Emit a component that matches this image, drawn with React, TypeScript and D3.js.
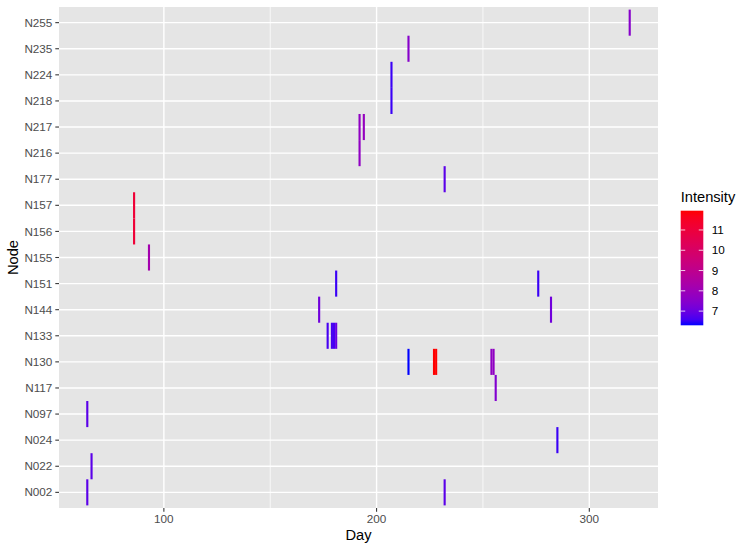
import { useEffect, useRef } from 'react'
import * as d3 from 'd3'

// node categories, bottom to top
const nodes = ['N002', 'N022', 'N024', 'N097', 'N117', 'N130', 'N133', 'N144', 'N151', 'N155', 'N156', 'N157', 'N177', 'N216', 'N217', 'N218', 'N224', 'N235', 'N255']

// one entry per tile
const tileNodes = ['N002', 'N002', 'N022', 'N097', 'N024', 'N117', 'N130', 'N130', 'N130', 'N130', 'N130', 'N133', 'N133', 'N133', 'N133', 'N144', 'N144', 'N151', 'N151', 'N155', 'N156', 'N157', 'N177', 'N216', 'N217', 'N217', 'N218', 'N224', 'N235', 'N255']
const tileDays = [64, 232, 66, 64, 285, 256, 215, 227, 228, 254, 255, 177, 179, 180, 181, 173, 282, 181, 276, 93, 86, 86, 232, 192, 192, 194, 207, 207, 215, 319]
const tileValues = [6.8, 6.8, 6.8, 6.8, 6.5, 7.4, 6.3, 11.95, 11.95, 7.7, 7.7, 6.6, 6.6, 6.6, 7.0, 7.1, 7.1, 6.5, 6.5, 8.2, 11.1, 11.1, 6.8, 7.7, 7.7, 7.8, 6.5, 6.5, 7.5, 7.5]

const xTicks = [100, 200, 300]
const xMinor = [150, 250]
const legendTicks = [7, 8, 9, 10, 11]

export default function App() {
  const svgRef = useRef<SVGSVGElement>(null)

  useEffect(() => {
    const width = 750
    const height = 550
    const panel = { left: 59, right: 658, top: 7, bottom: 508 }

    const svg = d3.select(svgRef.current)
    svg.selectAll('*').remove()
    svg.attr('width', width).attr('height', height).attr('viewBox', `0 0 ${width} ${height}`)
    svg.append('rect').attr('width', width).attr('height', height).attr('fill', '#fff')

    const tiles = tileDays.map((d, i) => ({ day: d, node: tileNodes[i], value: tileValues[i] }))

    const dMin = d3.min(tileDays)! - 0.5
    const dMax = d3.max(tileDays)! + 0.5
    const pad = (dMax - dMin) * 0.05
    const x = d3.scaleLinear().domain([dMin - pad, dMax + pad]).range([panel.left, panel.right])

    const y = d3
      .scaleBand()
      .domain(nodes)
      .range([panel.bottom, panel.top])
      .paddingInner(0)
      .paddingOuter(0.1)

    const extent = d3.extent(tileValues) as [number, number]
    const color = d3.scaleLinear<string>().domain(extent).range(['blue', 'red']).interpolate(d3.interpolateLab)

    const font = 'Liberation Sans, Arial, Helvetica, sans-serif'

    // panel
    svg
      .append('rect')
      .attr('x', panel.left)
      .attr('y', panel.top)
      .attr('width', panel.right - panel.left)
      .attr('height', panel.bottom - panel.top)
      .attr('fill', '#e5e5e5')

    svg
      .append('g')
      .selectAll('line')
      .data(xMinor)
      .join('line')
      .attr('x1', (d) => x(d))
      .attr('x2', (d) => x(d))
      .attr('y1', panel.top)
      .attr('y2', panel.bottom)
      .attr('stroke', '#fafafa')
      .attr('stroke-width', 0.9)

    svg
      .append('g')
      .selectAll('line')
      .data(xTicks)
      .join('line')
      .attr('x1', (d) => x(d))
      .attr('x2', (d) => x(d))
      .attr('y1', panel.top)
      .attr('y2', panel.bottom)
      .attr('stroke', '#fff')
      .attr('stroke-width', 1.4)

    const bw = y.bandwidth()
    svg
      .append('g')
      .selectAll('line')
      .data(nodes)
      .join('line')
      .attr('x1', panel.left)
      .attr('x2', panel.right)
      .attr('y1', (d) => y(d)! + bw / 2)
      .attr('y2', (d) => y(d)! + bw / 2)
      .attr('stroke', '#fff')
      .attr('stroke-width', 1.4)

    // tiles
    svg
      .append('g')
      .selectAll('rect')
      .data(tiles)
      .join('rect')
      .attr('x', (d) => x(d.day - 0.5))
      .attr('width', (d) => x(d.day + 0.5) - x(d.day - 0.5))
      .attr('y', (d) => y(d.node)!)
      .attr('height', bw)
      .attr('fill', (d) => color(d.value))

    // axes
    const xAxis = svg.append('g')
    xAxis
      .selectAll('line')
      .data(xTicks)
      .join('line')
      .attr('x1', (d) => x(d))
      .attr('x2', (d) => x(d))
      .attr('y1', panel.bottom)
      .attr('y2', panel.bottom + 3.7)
      .attr('stroke', '#333')
      .attr('stroke-width', 1.07)
    xAxis
      .selectAll('text')
      .data(xTicks)
      .join('text')
      .attr('x', (d) => x(d))
      .attr('y', 523)
      .attr('text-anchor', 'middle')
      .style('font-family', font)
      .style('font-size', '11.73px')
      .style('fill', '#4d4d4d')
      .text((d) => d)

    const yAxis = svg.append('g')
    yAxis
      .selectAll('line')
      .data(nodes)
      .join('line')
      .attr('x1', panel.left - 3.7)
      .attr('x2', panel.left)
      .attr('y1', (d) => y(d)! + bw / 2)
      .attr('y2', (d) => y(d)! + bw / 2)
      .attr('stroke', '#333')
      .attr('stroke-width', 1.07)
    yAxis
      .selectAll('text')
      .data(nodes)
      .join('text')
      .attr('x', panel.left - 6.6)
      .attr('y', (d) => y(d)! + bw / 2)
      .attr('dy', '0.35em')
      .attr('text-anchor', 'end')
      .style('font-family', font)
      .style('font-size', '11.73px')
      .style('fill', '#4d4d4d')
      .text((d) => d)

    svg
      .append('text')
      .attr('x', (panel.left + panel.right) / 2)
      .attr('y', 540)
      .attr('text-anchor', 'middle')
      .style('font-family', font)
      .style('font-size', '14.67px')
      .style('fill', '#000')
      .text('Day')

    svg
      .append('text')
      .attr('transform', `translate(18.3,${(panel.top + panel.bottom) / 2}) rotate(-90)`)
      .attr('text-anchor', 'middle')
      .style('font-family', font)
      .style('font-size', '14.67px')
      .style('fill', '#000')
      .text('Node')

    // legend
    const bar = { x: 680.7, y0: 210.7, y1: 325.3, w: 22.6 }
    const ly = d3.scaleLinear().domain(extent).range([bar.y1, bar.y0])

    const grad = svg
      .append('defs')
      .append('linearGradient')
      .attr('id', 'intensity-grad')
      .attr('x1', 0)
      .attr('y1', 1)
      .attr('x2', 0)
      .attr('y2', 0)
    d3.range(0, 1.0001, 0.05).forEach((t) => {
      grad
        .append('stop')
        .attr('offset', t)
        .attr('stop-color', color(extent[0] + t * (extent[1] - extent[0])))
    })

    svg
      .append('text')
      .attr('x', bar.x)
      .attr('y', 201.5)
      .style('font-family', font)
      .style('font-size', '14.67px')
      .style('fill', '#000')
      .text('Intensity')

    svg
      .append('rect')
      .attr('x', bar.x)
      .attr('y', bar.y0)
      .attr('width', bar.w)
      .attr('height', bar.y1 - bar.y0)
      .attr('fill', 'url(#intensity-grad)')

    const lg = svg.append('g')
    legendTicks.forEach((t) => {
      lg.append('line')
        .attr('x1', bar.x)
        .attr('x2', bar.x + bar.w / 5)
        .attr('y1', ly(t))
        .attr('y2', ly(t))
        .attr('stroke', '#fff')
        .attr('stroke-width', 0.8)
      lg.append('line')
        .attr('x1', bar.x + bar.w - bar.w / 5)
        .attr('x2', bar.x + bar.w)
        .attr('y1', ly(t))
        .attr('y2', ly(t))
        .attr('stroke', '#fff')
        .attr('stroke-width', 0.8)
      lg.append('text')
        .attr('x', 711.7)
        .attr('y', ly(t))
        .attr('dy', '0.35em')
        .style('font-family', font)
        .style('font-size', '11.73px')
        .style('fill', '#000')
        .text(t)
    })
  }, [])

  return <svg ref={svgRef} style={{ position: 'absolute', left: 0, top: 0, display: 'block' }} />
}
